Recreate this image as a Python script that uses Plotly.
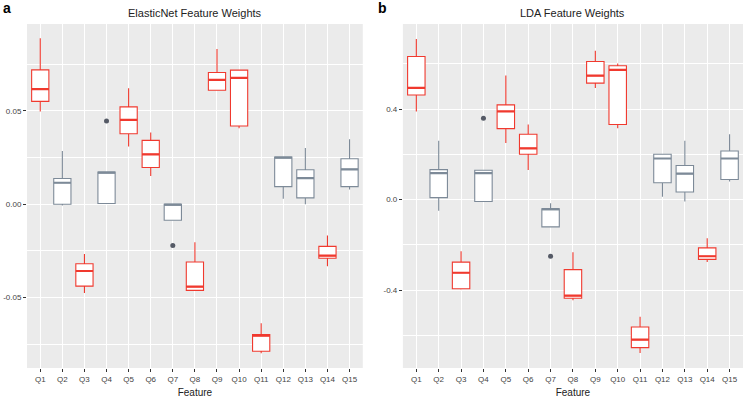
import plotly.graph_objects as go

features = [f"Q{i}" for i in range(1, 16)]
# colour group: red vs slate
red_feats = ["Q1", "Q3", "Q5", "Q6", "Q8", "Q9", "Q10", "Q11", "Q14"]

# ElasticNet box statistics (lower whisker, Q1, median, Q3, upper whisker)
en_low = [0.0497, -0.0007, -0.0476, 0.0004, 0.0309, 0.0151, -0.0086, -0.0462, 0.0611, 0.0407, -0.0799, 0.0029, 0.0000, -0.0333, 0.0079]
en_q1 = [0.0551, 0.0000, -0.0439, 0.0004, 0.0378, 0.0197, -0.0086, -0.0462, 0.0611, 0.0419, -0.0788, 0.0094, 0.0034, -0.0290, 0.0094]
en_med = [0.0617, 0.0115, -0.0358, 0.0170, 0.0452, 0.0267, -0.0002, -0.0442, 0.0667, 0.0677, -0.0704, 0.0250, 0.0140, -0.0276, 0.0187]
en_q3 = [0.0720, 0.0138, -0.0319, 0.0172, 0.0522, 0.0342, 0.0000, -0.0310, 0.0706, 0.0719, -0.0699, 0.0253, 0.0185, -0.0226, 0.0244]
en_high = [0.0889, 0.0285, -0.0267, 0.0172, 0.0622, 0.0384, 0.0000, -0.0204, 0.0832, 0.0719, -0.0638, 0.0253, 0.0301, -0.0168, 0.0348]
en_out_x = ["Q4", "Q7"]
en_out_y = [0.0446, -0.0222]

# LDA box statistics
lda_low = [0.390, -0.049, -0.397, -0.008, 0.251, 0.131, -0.120, -0.445, 0.494, 0.316, -0.678, 0.013, -0.008, -0.276, 0.080]
lda_q1 = [0.463, 0.009, -0.394, -0.008, 0.314, 0.201, -0.120, -0.436, 0.515, 0.332, -0.654, 0.075, 0.034, -0.264, 0.089]
lda_med = [0.494, 0.117, -0.323, 0.117, 0.390, 0.227, -0.042, -0.424, 0.548, 0.574, -0.619, 0.182, 0.115, -0.250, 0.182]
lda_q3 = [0.633, 0.133, -0.276, 0.130, 0.419, 0.289, -0.040, -0.309, 0.611, 0.592, -0.563, 0.201, 0.151, -0.213, 0.215]
lda_high = [0.710, 0.260, -0.228, 0.130, 0.549, 0.332, -0.016, -0.232, 0.658, 0.602, -0.518, 0.201, 0.260, -0.171, 0.289]
lda_out_x = ["Q4", "Q7"]
lda_out_y = [0.360, -0.250]

en_ticks = [-0.05, 0.0, 0.05]
en_ticktext = ["-0.05", "0.00", "0.05"]
lda_ticks = [-0.4, 0.0, 0.4]
lda_ticktext = ["-0.4", "0.0", "0.4"]

RED = "#F0392E"
SLATE = "#7D8A98"
OUT = "#555A66"
FONT = "Liberation Sans"

fig = go.Figure()


def add_panel(low, q1, med, q3, high, ox, oy, xa, ya):
    for color, sel in [(RED, lambda f: f in red_feats), (SLATE, lambda f: f not in red_feats)]:
        idx = [i for i, f in enumerate(features) if sel(f)]
        xs = [features[i] for i in idx]
        fig.add_trace(go.Box(
            x=xs,
            q1=[q1[i] for i in idx], median=[med[i] for i in idx], q3=[q3[i] for i in idx],
            lowerfence=[low[i] for i in idx], upperfence=[high[i] for i in idx],
            width=0.78, whiskerwidth=0, fillcolor="white",
            line=dict(color=color, width=1.1), xaxis=xa, yaxis=ya,
            showlegend=False, hoverinfo="skip", boxpoints=False,
        ))
        # thicker median line
        fig.add_trace(go.Box(
            x=xs,
            q1=[med[i] for i in idx], median=[med[i] for i in idx], q3=[med[i] for i in idx],
            lowerfence=[med[i] for i in idx], upperfence=[med[i] for i in idx],
            width=0.78, whiskerwidth=0, fillcolor="rgba(0,0,0,0)",
            line=dict(color=color, width=2.2), xaxis=xa, yaxis=ya,
            showlegend=False, hoverinfo="skip", boxpoints=False,
        ))
    fig.add_trace(go.Scatter(x=ox, y=oy, mode="markers", xaxis=xa, yaxis=ya,
                             marker=dict(color=OUT, size=5), showlegend=False, hoverinfo="skip"))


add_panel(en_low, en_q1, en_med, en_q3, en_high, en_out_x, en_out_y, "x", "y")
add_panel(lda_low, lda_q1, lda_med, lda_q3, lda_high, lda_out_x, lda_out_y, "x2", "y2")

xcommon = dict(type="category", categoryorder="array", categoryarray=features,
               range=[-0.6, 14.6], showgrid=True, gridcolor="white", gridwidth=1.1,
               ticks="outside", ticklen=3, tickcolor="#333333", tickwidth=1,
               tickfont=dict(family=FONT, size=8, color="#444444"),
               zeroline=False, showline=False,
               title=dict(text="Feature", font=dict(family=FONT, size=10, color="#222222"), standoff=6))

fig.update_layout(
    width=745, height=398,
    margin=dict(l=27, r=2, t=24, b=30),
    paper_bgcolor="white", plot_bgcolor="#EBEBEB",
    boxmode="overlay",
    xaxis=dict(domain=[0, 0.469], anchor="y", **xcommon),
    xaxis2=dict(domain=[0.525, 1], anchor="y2", **xcommon),
    yaxis=dict(anchor="x", range=[-0.0878, 0.0966], tickvals=en_ticks, ticktext=en_ticktext,
               showgrid=True, gridcolor="white", gridwidth=1.1, zeroline=False,
               ticks="outside", ticklen=3, tickcolor="#333333",
               tickfont=dict(family=FONT, size=8, color="#444444"),
               minor=dict(tickvals=[-0.075, -0.025, 0.025, 0.075], showgrid=True,
                          gridcolor="white", gridwidth=0.5, ticklen=0)),
    yaxis2=dict(anchor="x2", range=[-0.744, 0.7765], tickvals=lda_ticks, ticktext=lda_ticktext,
                showgrid=True, gridcolor="white", gridwidth=1.1, zeroline=False,
                ticks="outside", ticklen=3, tickcolor="#333333",
                tickfont=dict(family=FONT, size=8, color="#444444"),
                minor=dict(tickvals=[-0.6, -0.2, 0.2, 0.6], showgrid=True,
                           gridcolor="white", gridwidth=0.5, ticklen=0)),
)

# titles / panel letters placed in pixel terms relative to the plotting area
H = 398 - 24 - 30
W = 745 - 27 - 2
ty = 1 + (24 - 13) / H
ly = 1 + (24 - 8) / H
fig.update_layout(annotations=[
    dict(text="ElasticNet Feature Weights", x=0.2345, y=ty, xref="paper", yref="paper",
         showarrow=False, xanchor="center", yanchor="middle",
         font=dict(family=FONT, size=11, color="#222222")),
    dict(text="LDA Feature Weights", x=0.7625, y=ty, xref="paper", yref="paper",
         showarrow=False, xanchor="center", yanchor="middle",
         font=dict(family=FONT, size=11, color="#222222")),
    dict(text="<b>a</b>", x=(7 - 27) / W, y=ly, xref="paper", yref="paper", showarrow=False,
         xanchor="center", yanchor="middle", font=dict(family=FONT, size=14, color="black")),
    dict(text="<b>b</b>", x=(382 - 27) / W, y=ly, xref="paper", yref="paper", showarrow=False,
         xanchor="center", yanchor="middle", font=dict(family=FONT, size=14, color="black")),
])

fig.write_html("out.html", config={"displayModeBar": False},
               post_script="document.body.style.margin='0';document.body.style.overflow='hidden';")
